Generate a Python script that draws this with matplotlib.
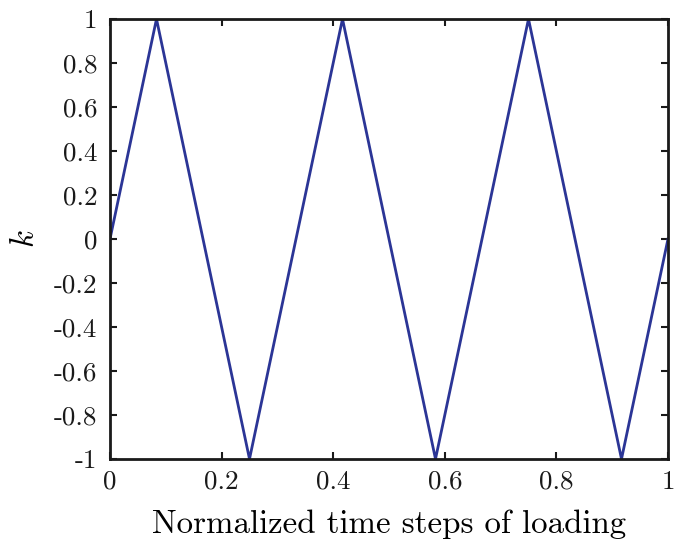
import matplotlib
matplotlib.use("Agg")
import matplotlib.pyplot as plt

plt.rcParams["font.family"] = ["cmr10", "DejaVu Serif"]
plt.rcParams["mathtext.fontset"] = "cm"
plt.rcParams["axes.unicode_minus"] = False

# Triangular loading history k(t)
t_norm = [0.0, 1/12, 3/12, 5/12, 7/12, 9/12, 11/12, 1.0]
k_vals = [0, 1, -1, 1, -1, 1, -1, 0]

x_ticks = [0, 0.2, 0.4, 0.6, 0.8, 1]
x_labels = ["0", "0.2", "0.4", "0.6", "0.8", "1"]
y_ticks = [-1, -0.8, -0.6, -0.4, -0.2, 0, 0.2, 0.4, 0.6, 0.8, 1]
y_labels = ["-1", "-0.8", "-0.6", "-0.4", "-0.2", "0", "0.2", "0.4", "0.6", "0.8", "1"]

fig = plt.figure(figsize=(6.74, 5.46), dpi=100)
ax = fig.add_axes([110/674, 1 - 459/546, (668 - 110)/674, (459 - 19)/546])

ax.plot(t_norm, k_vals, color="#2b3596", lw=2.0, solid_joinstyle="miter")

ax.set_xlim(0, 1)
ax.set_ylim(-1, 1)
ax.set_xticks(x_ticks)
ax.set_xticklabels(x_labels)
ax.set_yticks(y_ticks)
ax.set_yticklabels(y_labels)

for s in ax.spines.values():
    s.set_linewidth(2.0)
    s.set_color("#1a1a1a")
ax.tick_params(direction="in", length=5, width=1.5, top=True, right=True,
               labelsize=19.5, colors="#1a1a1a")
ax.tick_params(axis="x", pad=8)
ax.tick_params(axis="y", pad=9)

ax.set_xlabel("Normalized time steps of loading", fontsize=23.7, labelpad=11)
ax.set_ylabel(r"$k$", fontsize=23.7, labelpad=10)

fig.savefig("out.png", dpi=100)
